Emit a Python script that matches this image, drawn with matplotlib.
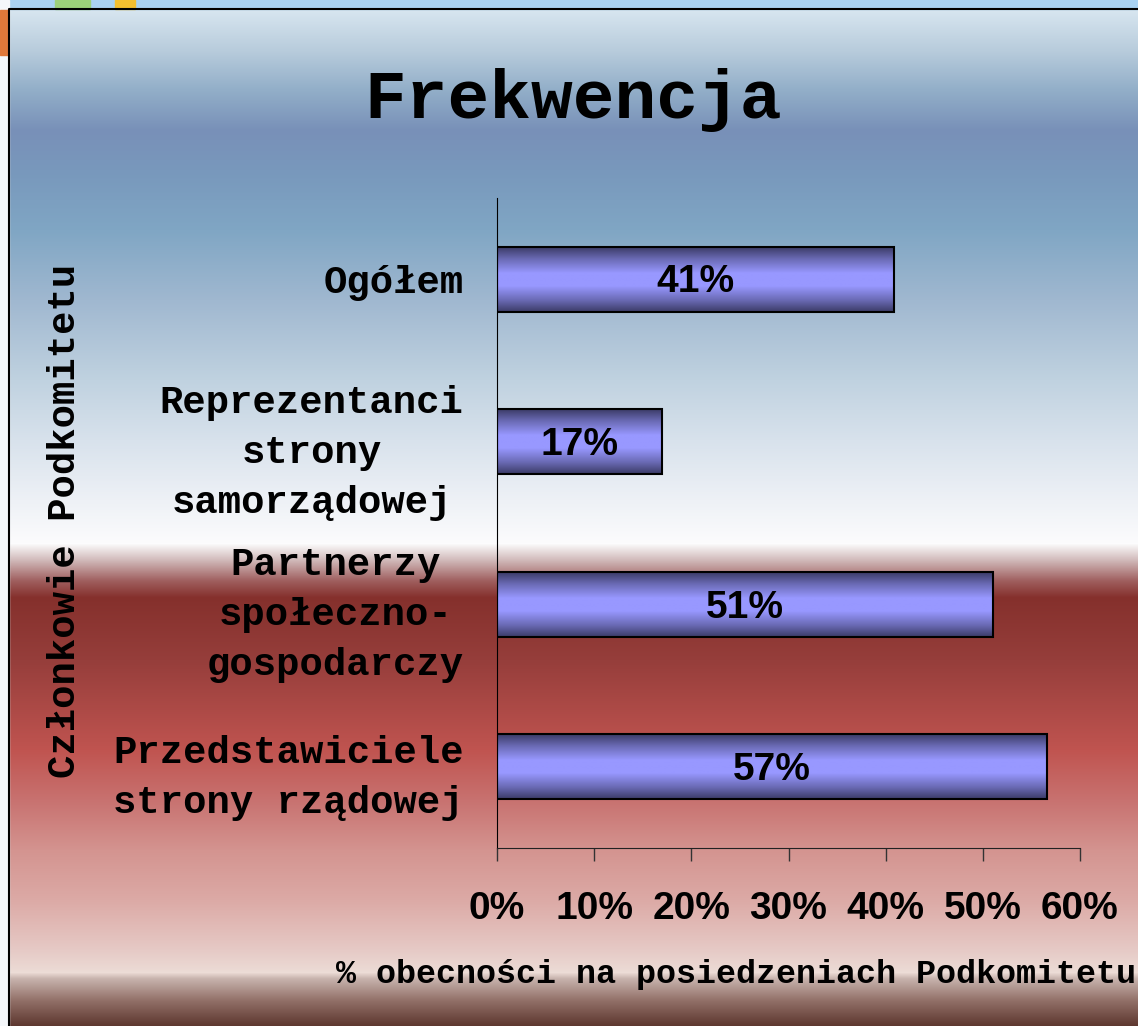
import numpy as np
import matplotlib
matplotlib.use("Agg")
import matplotlib.pyplot as plt
from matplotlib.colors import to_rgb
from matplotlib.patches import Rectangle

# data
categories = ["Ogółem",
              "Reprezentanci\nstrony\nsamorządowej",
              "Partnerzy\nspołeczno-\ngospodarczy",
              "Przedstawiciele\nstrony rządowej"]
values = [40.9, 17.0, 51.0, 56.6]
bar_labels = ["41%", "17%", "51%", "57%"]
xticks = [0, 10, 20, 30, 40, 50, 60]
xtick_labels = ["0%", "10%", "20%", "30%", "40%", "50%", "60%"]

title = "Frekwencja"
xlabel = "% obecności na posiedzeniach Podkomitetu"
ylabel = "Członkowie Podkomitetu"

W, H = 1138, 1026
mono = "Liberation Mono"
sans = "Liberation Sans"


def gradient(stops, n):
    # stops: list of (pos in pixels, color)
    pos = np.array([s[0] for s in stops], dtype=float)
    cols = np.array([to_rgb(s[1]) for s in stops])
    y = np.arange(n)
    img = np.stack([np.interp(y, pos, cols[:, k]) for k in range(3)], axis=1)
    return img[:, None, :]


fig = plt.figure(figsize=(W / 100, H / 100), dpi=100)

# background (slide)
bg = fig.add_axes([0, 0, 1, 1])
bg.set_axis_off()
bg_stops = [
    (0, "#d8e6f0"), (9, "#d8e6f0"), (50, "#b8ccdc"), (90, "#92aec8"),
    (130, "#7890b8"), (170, "#7898bc"), (230, "#80a6c4"), (300, "#a0b8d0"),
    (380, "#c0d2e0"), (440, "#d8e2ec"), (500, "#eef1f6"), (543, "#fcfcfd"),
    (560, "#d0b8b8"), (580, "#a06060"), (597, "#85302c"), (660, "#963e3b"),
    (750, "#c05450"), (800, "#c87270"), (850, "#d49490"), (900, "#dcaaa6"),
    (950, "#e6cac6"), (972, "#ecdcd6"), (978, "#c8b4ae"), (1000, "#927068"),
    (1025, "#5e3830"),
]
bg.imshow(gradient(bg_stops, H), aspect="auto", extent=[0, W, H, 0])
bg.set_xlim(0, W)
bg.set_ylim(H, 0)
# bits of the slide outside the chart frame
bg.add_patch(Rectangle((0, 0), W, 9, color="#a9d2f2", zorder=2))
bg.add_patch(Rectangle((0, 0), 9, H, color="#f4f7fa", zorder=2))
bg.add_patch(Rectangle((0, 10), 8, 45, color="#e0783a", zorder=3))
bg.add_patch(Rectangle((55, 0), 35, 9, color="#9cd07a", zorder=3))
bg.add_patch(Rectangle((115, 0), 20, 9, color="#f4c030", zorder=3))
bg.plot([9, 9, W], [H, 9, 9], color="black", lw=1.5, zorder=4)

# chart
ax = fig.add_axes([497 / W, 1 - 848 / H, (1080 - 497) / W, (848 - 198) / H])
ax.patch.set_alpha(0)
y = np.arange(len(categories))
bars = ax.barh(y, values, height=0.4, facecolor="none", edgecolor="black",
               linewidth=1.5, zorder=3)

bar_stops = [(0, "#3c3c68"), (18, "#6a6ab4"), (40, "#9898ff"), (60, "#9898ff"),
             (82, "#6a6ab4"), (100, "#3c3c68")]
bar_img = gradient(bar_stops, 101)
for b, lab in zip(bars, bar_labels):
    x0, y0 = b.get_x(), b.get_y()
    w, h = b.get_width(), b.get_height()
    im = ax.imshow(bar_img, aspect="auto", extent=[x0, x0 + w, y0 + h, y0],
                   zorder=2)
    im.set_clip_path(b)
    ax.text(x0 + w / 2, y0 + h * 0.55, lab, ha="center", va="center",
            fontsize=28, fontweight="bold", family=sans, zorder=4)

ax.set_xlim(0, 60)
ax.set_ylim(len(categories) - 0.5, -0.5)
ax.set_xticks(xticks)
ax.set_xticklabels(xtick_labels, fontsize=28, fontweight="bold", family=sans)
ax.set_yticks(y)
ax.set_yticklabels(categories, fontsize=28, fontweight="bold", family=mono,
                   multialignment="center", linespacing=1.5)
ax.tick_params(axis="x", direction="out", length=9, width=1, color="#333333",
               pad=22)
ax.tick_params(axis="y", length=0, pad=24)
for s in ["top", "right"]:
    ax.spines[s].set_visible(False)
ax.spines["left"].set_color("black")
ax.spines["bottom"].set_color("#222222")

fig.text(573 / W, 1 - 100 / H, title, ha="center", va="center", fontsize=50,
         fontweight="bold", family=mono)
fig.text(736 / W, 1 - 975 / H, xlabel, ha="center", va="center", fontsize=24,
         fontweight="bold", family=mono)
fig.text(65 / W, 1 - 521 / H, ylabel, ha="center", va="center", rotation=90,
         fontsize=28, fontweight="bold", family=mono)

fig.savefig("out.png", dpi=100)
